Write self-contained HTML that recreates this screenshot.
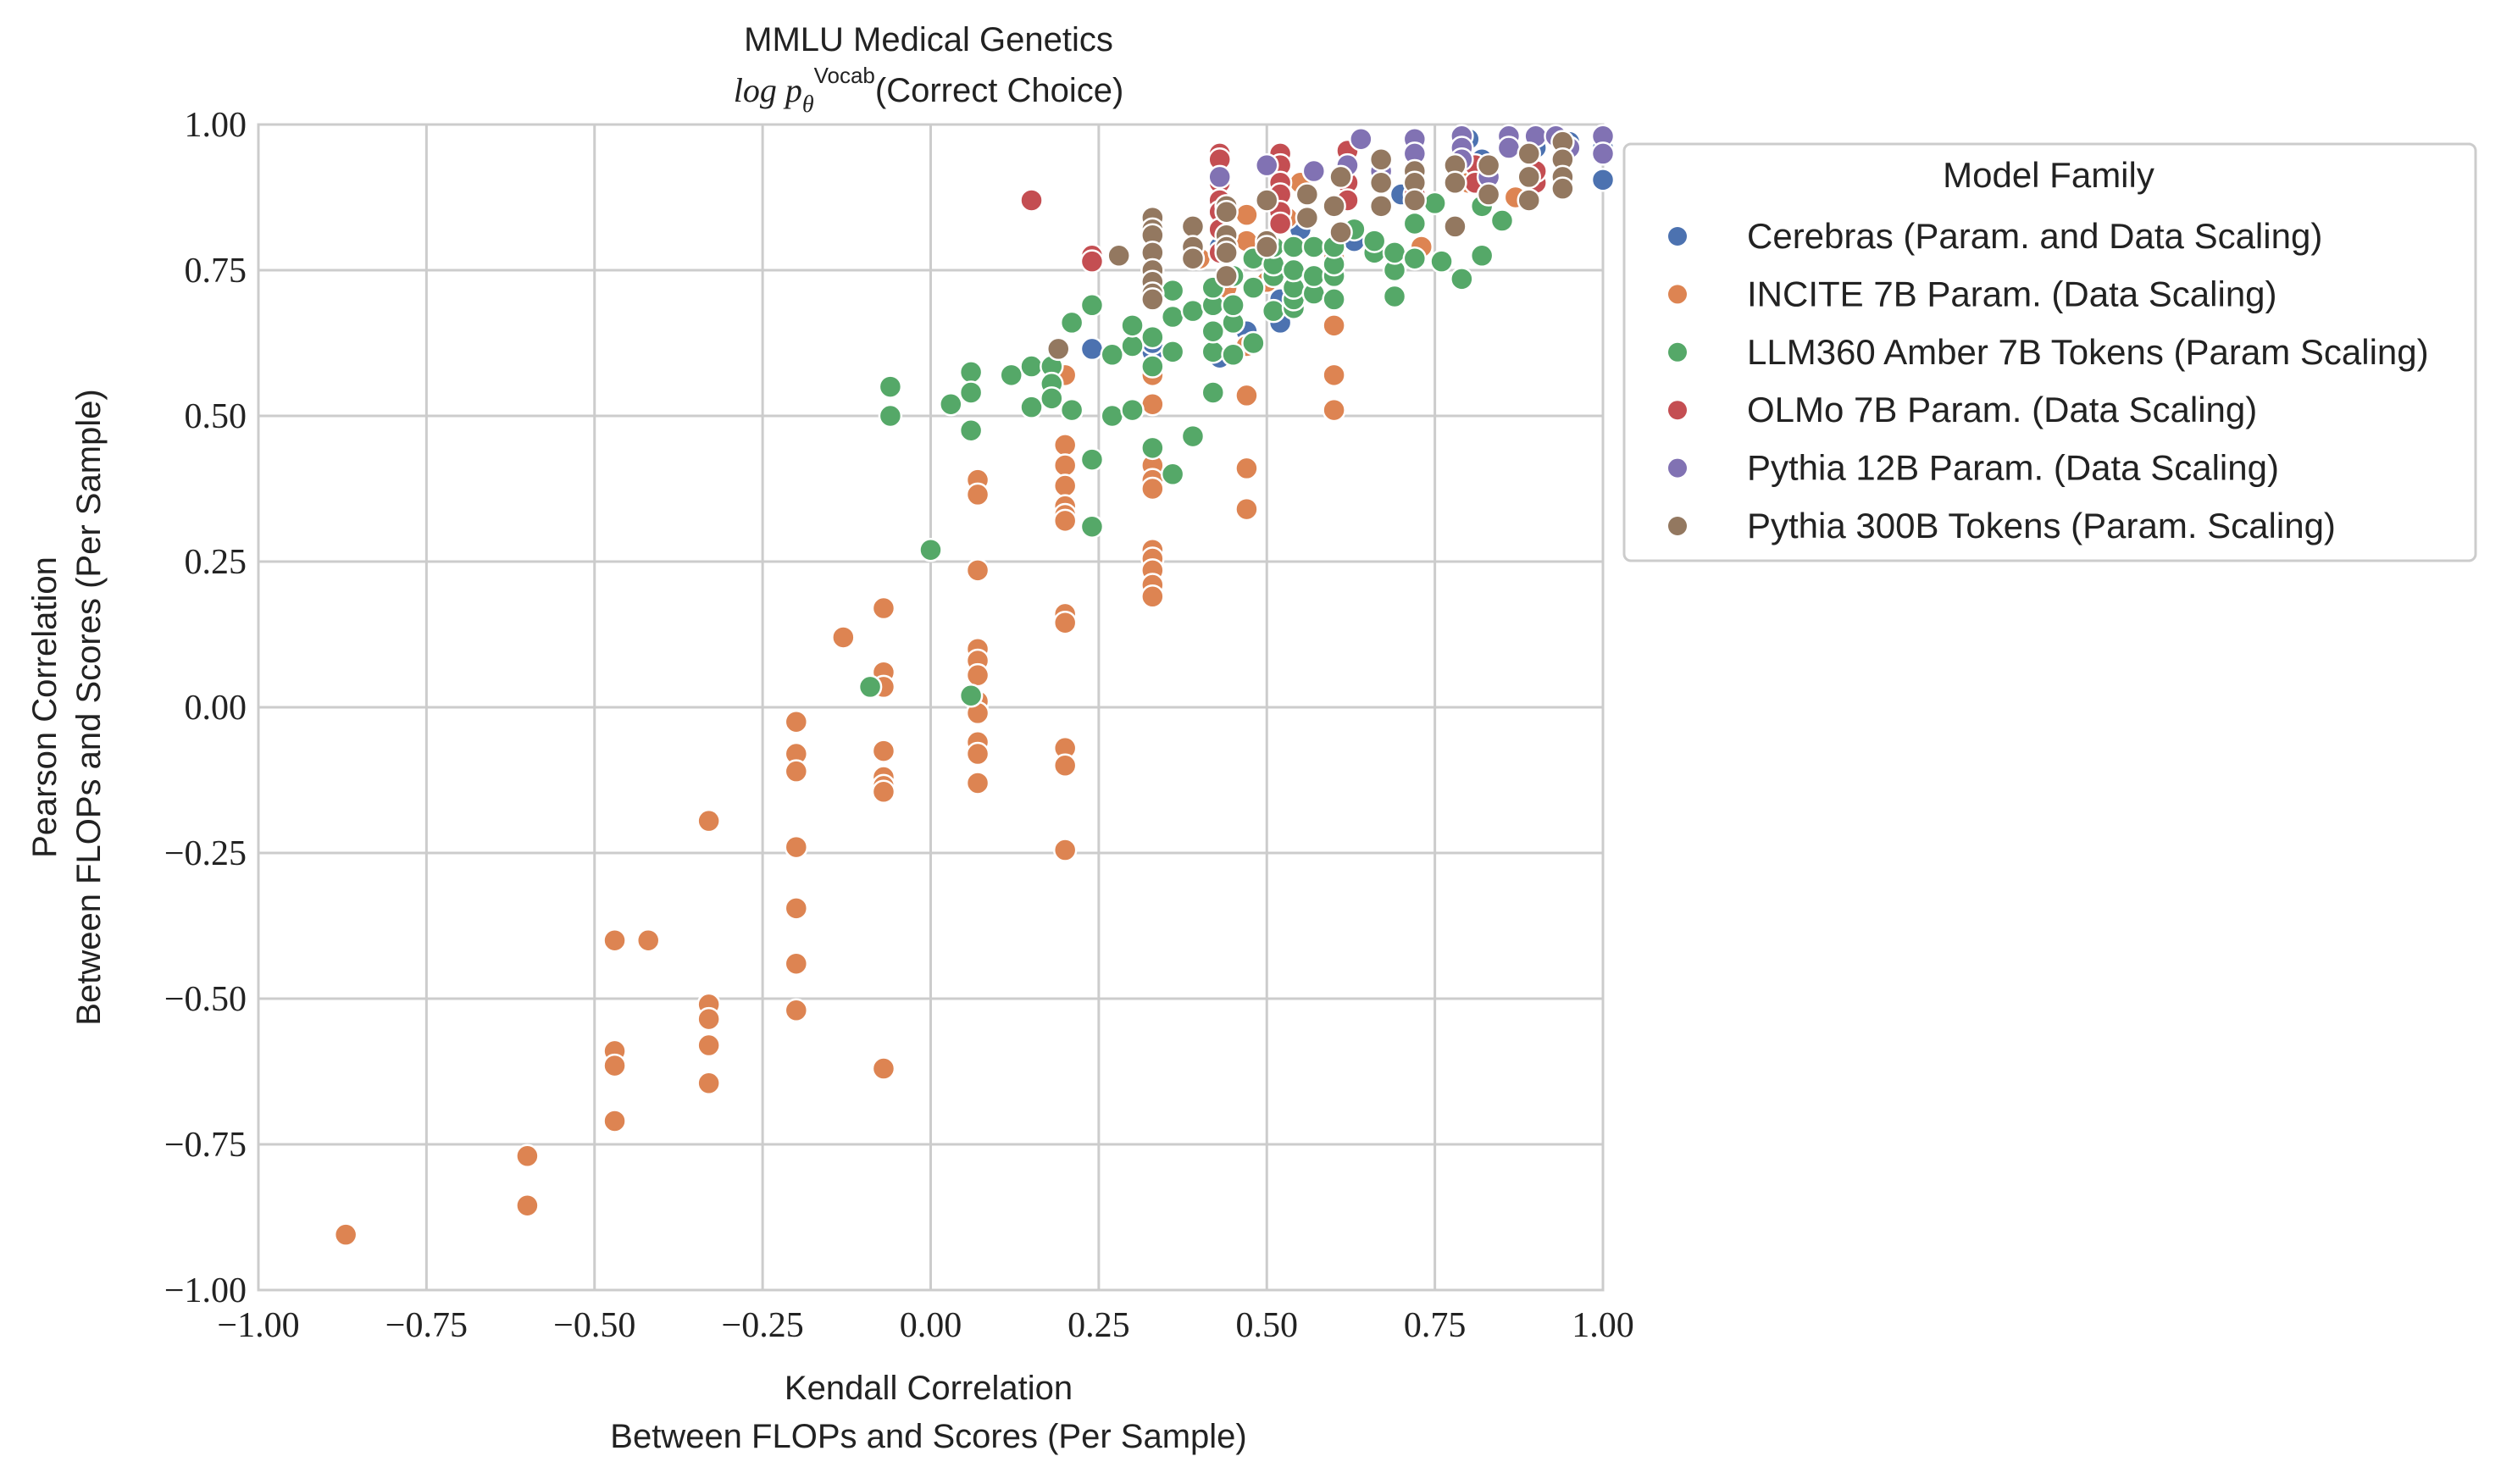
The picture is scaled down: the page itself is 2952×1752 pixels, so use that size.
<!DOCTYPE html>
<html><head><meta charset="utf-8"><style>
body{margin:0;background:#fff;}
svg{display:block;}
text{font-family:"Liberation Sans",sans-serif;fill:#222;}
.tick{font-family:"Liberation Serif",serif;font-size:42px;}
</style></head><body>
<svg id="chart" width="2952" height="1752" xmlns="http://www.w3.org/2000/svg">
<text x="1096" y="60" font-size="40" text-anchor="middle">MMLU Medical Genetics</text>
<text x="1096" y="120" font-size="40" text-anchor="middle"><tspan font-family="Liberation Serif" font-style="italic">log p</tspan><tspan font-family="Liberation Serif" font-style="italic" font-size="28" dy="12">θ</tspan><tspan font-size="26" dy="-34">Vocab</tspan><tspan dy="22">(Correct Choice)</tspan></text>
<g id="grid"></g>
<g id="points"></g>
<g id="ticks"></g>
<text x="1096" y="1652" font-size="40" text-anchor="middle">Kendall Correlation</text>
<text x="1096" y="1709" font-size="40" text-anchor="middle">Between FLOPs and Scores (Per Sample)</text>
<text transform="translate(66,835) rotate(-90)" font-size="40" text-anchor="middle">Pearson Correlation</text>
<text transform="translate(118,835) rotate(-90)" font-size="40" text-anchor="middle">Between FLOPs and Scores (Per Sample)</text>
<g id="legend"></g>
</svg>
<script>
const seriesNames=["Cerebras (Param. and Data Scaling)","INCITE 7B Param. (Data Scaling)","LLM360 Amber 7B Tokens (Param Scaling)","OLMo 7B Param. (Data Scaling)","Pythia 12B Param. (Data Scaling)","Pythia 300B Tokens (Param. Scaling)"];
const seriesColors=["#4c72b0","#dd8452","#55a868","#c44e52","#8172b3","#937860"];
const xTicks=[-1,-0.75,-0.5,-0.25,0,0.25,0.5,0.75,1];
const yTicks=[-1,-0.75,-0.5,-0.25,0,0.25,0.5,0.75,1];
const cerebras=[[0.24,0.615],[0.33,0.61],[0.33,0.625],[0.43,0.60],[0.43,0.79],[0.52,0.66],[0.52,0.70],[0.47,0.645],[0.6,0.78],[0.7,0.88],[0.8,0.975],[0.82,0.94],[0.9,0.96],[1.0,0.905],[1.0,0.96],[0.95,0.97],[0.55,0.82],[0.63,0.80]];
const incite=[[-0.87,-0.905],[-0.6,-0.77],[-0.6,-0.855],[-0.47,-0.40],[-0.47,-0.59],[-0.47,-0.615],[-0.47,-0.71],[-0.42,-0.40],[-0.33,-0.195],[-0.33,-0.51],[-0.33,-0.535],[-0.33,-0.58],[-0.33,-0.645],[-0.2,-0.025],[-0.2,-0.08],[-0.2,-0.11],[-0.2,-0.24],[-0.2,-0.345],[-0.2,-0.44],[-0.2,-0.52],[-0.13,0.12],[-0.07,0.17],[-0.07,0.06],[-0.07,0.035],[-0.07,-0.075],[-0.07,-0.12],[-0.07,-0.135],[-0.07,-0.145],[-0.07,-0.62],[0.07,0.39],[0.07,0.365],[0.07,0.235],[0.07,0.10],[0.07,0.08],[0.07,0.055],[0.07,0.01],[0.07,-0.01],[0.07,-0.06],[0.07,-0.08],[0.07,-0.13],[0.2,0.57],[0.2,0.45],[0.2,0.415],[0.2,0.38],[0.2,0.345],[0.2,0.33],[0.2,0.32],[0.2,0.16],[0.2,0.145],[0.2,-0.07],[0.2,-0.1],[0.2,-0.245],[0.33,0.57],[0.33,0.52],[0.33,0.44],[0.33,0.415],[0.33,0.39],[0.33,0.375],[0.33,0.27],[0.33,0.255],[0.33,0.235],[0.33,0.21],[0.33,0.19],[0.47,0.535],[0.47,0.41],[0.47,0.34],[0.47,0.62],[0.47,0.80],[0.47,0.845],[0.6,0.655],[0.6,0.57],[0.6,0.51],[0.6,0.77],[0.4,0.77],[0.44,0.72],[0.5,0.73],[0.55,0.90],[0.73,0.79],[0.87,0.875],[0.8,0.9],[0.53,0.84],[0.45,0.66]];
const amber=[[-0.09,0.035],[0.06,0.02],[0.0,0.27],[-0.06,0.55],[-0.06,0.50],[0.03,0.52],[0.06,0.575],[0.06,0.54],[0.06,0.475],[0.12,0.57],[0.15,0.515],[0.15,0.585],[0.18,0.585],[0.18,0.555],[0.18,0.53],[0.21,0.66],[0.21,0.51],[0.24,0.425],[0.24,0.31],[0.24,0.69],[0.27,0.605],[0.27,0.50],[0.3,0.51],[0.3,0.62],[0.3,0.655],[0.33,0.635],[0.33,0.585],[0.33,0.445],[0.36,0.40],[0.36,0.61],[0.36,0.67],[0.36,0.715],[0.39,0.465],[0.39,0.68],[0.42,0.54],[0.42,0.61],[0.42,0.645],[0.42,0.69],[0.42,0.72],[0.45,0.605],[0.45,0.66],[0.45,0.69],[0.45,0.74],[0.48,0.625],[0.48,0.72],[0.48,0.77],[0.51,0.68],[0.51,0.74],[0.51,0.76],[0.51,0.79],[0.54,0.685],[0.54,0.70],[0.54,0.72],[0.54,0.75],[0.54,0.79],[0.57,0.71],[0.57,0.74],[0.57,0.79],[0.6,0.70],[0.6,0.74],[0.6,0.76],[0.6,0.79],[0.63,0.82],[0.66,0.78],[0.66,0.80],[0.69,0.705],[0.69,0.75],[0.69,0.78],[0.72,0.77],[0.72,0.83],[0.75,0.865],[0.76,0.765],[0.79,0.735],[0.82,0.775],[0.85,0.835],[0.82,0.86]];
const olmo=[[0.15,0.87],[0.24,0.775],[0.24,0.765],[0.43,0.95],[0.43,0.94],[0.43,0.90],[0.43,0.87],[0.43,0.85],[0.43,0.82],[0.43,0.78],[0.52,0.95],[0.52,0.93],[0.52,0.90],[0.52,0.88],[0.52,0.85],[0.52,0.83],[0.62,0.955],[0.62,0.90],[0.62,0.87],[0.72,0.92],[0.72,0.88],[0.81,0.93],[0.81,0.90],[0.9,0.90],[0.9,0.92],[0.33,0.84],[0.33,0.83]];
const pythia12=[[0.43,0.91],[0.5,0.93],[0.57,0.92],[0.64,0.975],[0.72,0.975],[0.72,0.95],[0.79,0.98],[0.79,0.96],[0.79,0.94],[0.86,0.98],[0.86,0.96],[0.9,0.98],[0.93,0.98],[0.95,0.96],[1.0,0.98],[1.0,0.95],[0.62,0.93],[0.67,0.92],[0.83,0.91]];
const pythia300=[[0.19,0.615],[0.28,0.775],[0.33,0.84],[0.33,0.82],[0.33,0.81],[0.33,0.78],[0.33,0.75],[0.33,0.73],[0.33,0.71],[0.33,0.70],[0.39,0.825],[0.39,0.79],[0.39,0.77],[0.44,0.86],[0.44,0.85],[0.44,0.81],[0.44,0.79],[0.44,0.78],[0.44,0.74],[0.5,0.87],[0.5,0.80],[0.5,0.79],[0.56,0.88],[0.56,0.84],[0.6,0.86],[0.61,0.91],[0.61,0.815],[0.67,0.94],[0.67,0.90],[0.67,0.86],[0.72,0.92],[0.72,0.90],[0.72,0.87],[0.78,0.93],[0.78,0.90],[0.78,0.825],[0.83,0.93],[0.83,0.88],[0.89,0.95],[0.89,0.91],[0.89,0.87],[0.94,0.97],[0.94,0.94],[0.94,0.91],[0.94,0.89]];
const allSeries=[cerebras,incite,amber,olmo,pythia12,pythia300];

const NS="http://www.w3.org/2000/svg";
const X0=305,X1=1892,Y0=1523,Y1=147;
function sx(v){return X0+(v+1)/2*(X1-X0);}
function sy(v){return Y0-(v+1)/2*(Y0-Y1);}
function mk(tag,attrs,parent){const e=document.createElementNS(NS,tag);for(const k in attrs)e.setAttribute(k,attrs[k]);parent.appendChild(e);return e;}
function fmt(v){return (v<0?"\u2212":"")+Math.abs(v).toFixed(2);}
const grid=document.getElementById('grid'),ticks=document.getElementById('ticks');
xTicks.forEach(v=>{
  const l=mk('line',{x1:sx(v),x2:sx(v),y1:Y1,y2:Y0,stroke:'#cccccc','stroke-width':3},grid);
  
  
  const t=mk('text',{x:sx(v),y:Y0+55,'text-anchor':'middle','class':'tick'},ticks);
  t.textContent=fmt(v);
  
  
});
yTicks.forEach(v=>{
  const l=mk('line',{x1:X0,x2:X1,y1:sy(v),y2:sy(v),stroke:'#cccccc','stroke-width':3},grid);
  
  
  const t=mk('text',{x:X0-14,y:sy(v)+14,'text-anchor':'end','class':'tick'},ticks);
  t.textContent=fmt(v);
  
  
});
const frame=mk('rect',{x:X0,y:Y1,width:X1-X0,height:Y0-Y1,fill:'none',stroke:'#cccccc','stroke-width':3},grid);


const pts=document.getElementById('points');
allSeries.forEach((s,i)=>{
  s.forEach(p=>{
    const c=mk('circle',{cx:sx(p[0]),cy:sy(p[1]),r:13,fill:seriesColors[i],stroke:'#fff','stroke-width':2.5},pts);
    
    
  });
});
const lg=document.getElementById('legend');
const box=mk('rect',{x:1917,y:170,width:1005,height:492,rx:8,fill:'#fff',stroke:'#cccccc','stroke-width':3},lg);


const lt=mk('text',{x:2418,y:221,'text-anchor':'middle','font-size':42},lg);
lt.textContent="Model Family";


seriesNames.forEach((n,i)=>{
  const y=279+i*68.4;
  const c=mk('circle',{cx:1980,cy:y,r:11,fill:seriesColors[i]},lg);
  
  
  const t=mk('text',{x:2062,y:y+14,'font-size':42},lg);
  t.textContent=n;
  
  
});
</script>
</body></html>
